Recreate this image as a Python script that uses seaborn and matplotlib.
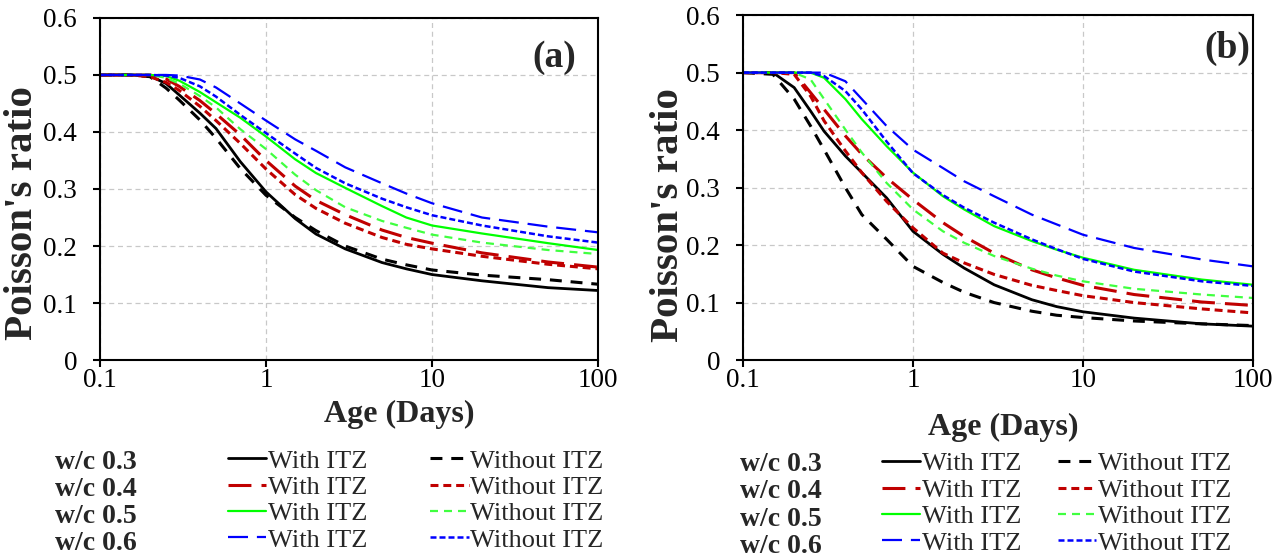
import seaborn as sns
import matplotlib.pyplot as plt
from matplotlib.lines import Line2D

# age grid (days), shared by all curves
age = [0.1, 0.15, 0.2, 0.25, 0.3, 0.4, 0.5, 0.7, 1, 1.5, 2, 3, 5, 7, 10, 20, 50, 100]

# panel (a)
a_wc03_with = [0.5, 0.5, 0.498, 0.485, 0.465, 0.433, 0.406, 0.348, 0.295, 0.248, 0.221, 0.195, 0.171, 0.160, 0.150, 0.139, 0.127, 0.122]
a_wc03_without = [0.5, 0.5, 0.497, 0.477, 0.456, 0.421, 0.389, 0.336, 0.289, 0.250, 0.227, 0.200, 0.177, 0.167, 0.158, 0.149, 0.141, 0.133]
a_wc04_with = [0.5, 0.5, 0.5, 0.493, 0.480, 0.455, 0.432, 0.395, 0.350, 0.305, 0.280, 0.255, 0.228, 0.215, 0.205, 0.188, 0.172, 0.163]
a_wc04_without = [0.5, 0.5, 0.497, 0.487, 0.473, 0.445, 0.420, 0.380, 0.335, 0.290, 0.266, 0.240, 0.215, 0.203, 0.195, 0.182, 0.168, 0.160]
a_wc05_with = [0.5, 0.5, 0.5, 0.498, 0.490, 0.470, 0.452, 0.425, 0.392, 0.352, 0.328, 0.302, 0.270, 0.250, 0.236, 0.222, 0.205, 0.193]
a_wc05_without = [0.5, 0.5, 0.5, 0.495, 0.485, 0.463, 0.443, 0.405, 0.370, 0.325, 0.298, 0.268, 0.244, 0.232, 0.220, 0.206, 0.193, 0.186]
a_wc06_with = [0.5, 0.5, 0.5, 0.5, 0.499, 0.492, 0.478, 0.450, 0.420, 0.387, 0.367, 0.338, 0.310, 0.292, 0.275, 0.250, 0.234, 0.224]
a_wc06_without = [0.5, 0.5, 0.5, 0.499, 0.495, 0.480, 0.462, 0.430, 0.398, 0.362, 0.337, 0.310, 0.283, 0.268, 0.254, 0.236, 0.217, 0.206]

# panel (b)
b_wc03_with = [0.5, 0.5, 0.474, 0.433, 0.398, 0.355, 0.326, 0.282, 0.224, 0.184, 0.160, 0.131, 0.105, 0.093, 0.084, 0.073, 0.063, 0.059]
b_wc03_without = [0.5, 0.497, 0.454, 0.407, 0.366, 0.300, 0.253, 0.210, 0.163, 0.135, 0.118, 0.100, 0.085, 0.078, 0.074, 0.068, 0.063, 0.060]
b_wc04_with = [0.5, 0.5, 0.5, 0.465, 0.436, 0.390, 0.358, 0.317, 0.279, 0.239, 0.215, 0.186, 0.157, 0.143, 0.130, 0.114, 0.101, 0.095]
b_wc04_without = [0.5, 0.5, 0.497, 0.459, 0.416, 0.364, 0.326, 0.276, 0.230, 0.186, 0.169, 0.149, 0.130, 0.121, 0.112, 0.100, 0.089, 0.082]
b_wc05_with = [0.5, 0.5, 0.5, 0.5, 0.491, 0.454, 0.419, 0.372, 0.326, 0.285, 0.262, 0.233, 0.207, 0.192, 0.178, 0.157, 0.140, 0.131]
b_wc05_without = [0.5, 0.5, 0.5, 0.488, 0.454, 0.401, 0.361, 0.308, 0.262, 0.224, 0.204, 0.181, 0.159, 0.147, 0.137, 0.124, 0.114, 0.108]
b_wc06_with = [0.5, 0.5, 0.5, 0.5, 0.5, 0.485, 0.454, 0.407, 0.366, 0.334, 0.311, 0.285, 0.253, 0.236, 0.218, 0.195, 0.175, 0.163]
b_wc06_without = [0.5, 0.5, 0.5, 0.5, 0.494, 0.468, 0.436, 0.380, 0.325, 0.287, 0.265, 0.239, 0.210, 0.193, 0.176, 0.154, 0.137, 0.129]

wc_labels = ["w/c 0.3", "w/c 0.4", "w/c 0.5", "w/c 0.6"]
x_ticks = [0.1, 1, 10, 100]
x_ticklabels = ["0.1", "1", "10", "100"]
y_ticks = [0, 0.1, 0.2, 0.3, 0.4, 0.5, 0.6]
y_ticklabels = ["0", "0.1", "0.2", "0.3", "0.4", "0.5", "0.6"]

# styles: (color, linewidth, dash pattern or None)
with_styles = [("#000000", 2.0, None),
               ("#c00000", 2.2, (7.5, 3.3)),
               ("#00ff00", 1.6, None),
               ("#0000ff", 1.6, (9, 4))]
without_styles = [("#000000", 2.2, (3.9, 2.9)),
                  ("#c00000", 2.2, (2.6, 1.6)),
                  ("#40ff40", 1.6, (3.6, 2.7)),
                  ("#0000ff", 1.8, (2.4, 1.2))]

sns.set_style("ticks")
plt.rcParams['font.family'] = ['Liberation Serif', 'DejaVu Serif']

fig = plt.figure(figsize=(12.85, 5.6), dpi=100)
ax1 = fig.add_axes([0.0778, 0.357, 0.3876, 0.611])
ax2 = fig.add_axes([0.5782, 0.357, 0.3969, 0.616])

panels = [
    dict(ax=ax1, tag="(a)", tagpos=(0.912, 0.883),
         withs=[a_wc03_with, a_wc04_with, a_wc05_with, a_wc06_with],
         withouts=[a_wc03_without, a_wc04_without, a_wc05_without, a_wc06_without],
         xlab=(0.6, -0.116), ylab=(-0.119, 0.43),
         wc_x=0.0428, line_x=0.1774, leg_y=0.198, colsp=2.4),
    dict(ax=ax2, tag="(b)", tagpos=(0.949, 0.904),
         withs=[b_wc03_with, b_wc04_with, b_wc05_with, b_wc06_with],
         withouts=[b_wc03_without, b_wc04_without, b_wc05_without, b_wc06_without],
         xlab=(0.51, -0.152), ylab=(-0.11, 0.42),
         wc_x=0.5759, line_x=0.6864, leg_y=0.193, colsp=1.4),
]


def ls_of(d):
    return "-" if d is None else (0, d)


for p in panels:
    ax = p["ax"]
    for i in range(4):
        for vals, st in ((p["withs"][i], with_styles[i]), (p["withouts"][i], without_styles[i])):
            c, lw, d = st
            sns.lineplot(x=age, y=vals, ax=ax, color=c, lw=lw, linestyle=ls_of(d))
    ax.set_xscale("log")
    ax.set_xlim(0.1, 100)
    ax.set_ylim(0, 0.6)
    ax.set_xticks(x_ticks)
    ax.set_xticklabels(x_ticklabels)
    ax.minorticks_off()
    ax.set_yticks(y_ticks)
    ax.set_yticklabels(y_ticklabels)
    ax.grid(True, color="#c8c8c8", ls=(0, (4, 3)), lw=0.9)
    for s in ax.spines.values():
        s.set_linewidth(1.5)
        s.set_color("black")
    ax.tick_params(direction="out", length=5, width=1.5, labelsize=19.5,
                   colors="black")
    ax.tick_params(axis="y", pad=11.5)
    ax.tick_params(axis="x", pad=1)
    ax.set_xlabel("Age (Days)", fontsize=23, fontweight="bold")
    ax.set_ylabel("Poisson's ratio", fontsize=29.5, fontweight="bold")
    ax.xaxis.set_label_coords(*p["xlab"])
    ax.yaxis.set_label_coords(*p["ylab"])
    ax.text(p["tagpos"][0], p["tagpos"][1], p["tag"], transform=ax.transAxes,
            fontsize=27, fontweight="bold", ha="center", va="center")

    # w/c labels as a handle-less legend column
    blank = [Line2D([], [], color="none") for _ in range(4)]
    leg1 = ax.legend(blank, wc_labels, frameon=False, loc="upper left",
                     bbox_to_anchor=(p["wc_x"], p["leg_y"]),
                     bbox_transform=fig.transFigure,
                     prop=dict(size=20, weight="bold"),
                     handlelength=0, handletextpad=0, labelspacing=0.06,
                     borderpad=0, borderaxespad=0)
    ax.add_artist(leg1)

    h_with = [Line2D([], [], color=c, lw=lw, ls=ls_of(d)) for c, lw, d in with_styles]
    h_without = [Line2D([], [], color=c, lw=lw, ls=ls_of(d)) for c, lw, d in without_styles]
    ax.legend(h_with + h_without, ["With ITZ"] * 4 + ["Without ITZ"] * 4,
              ncol=2, frameon=False, loc="upper left",
              bbox_to_anchor=(p["line_x"], p["leg_y"]),
              bbox_transform=fig.transFigure, fontsize=19,
              handlelength=1.45, handletextpad=0.05, columnspacing=p["colsp"],
              labelspacing=0.11, borderpad=0, borderaxespad=0)

fig.savefig("out.png", dpi=100)
